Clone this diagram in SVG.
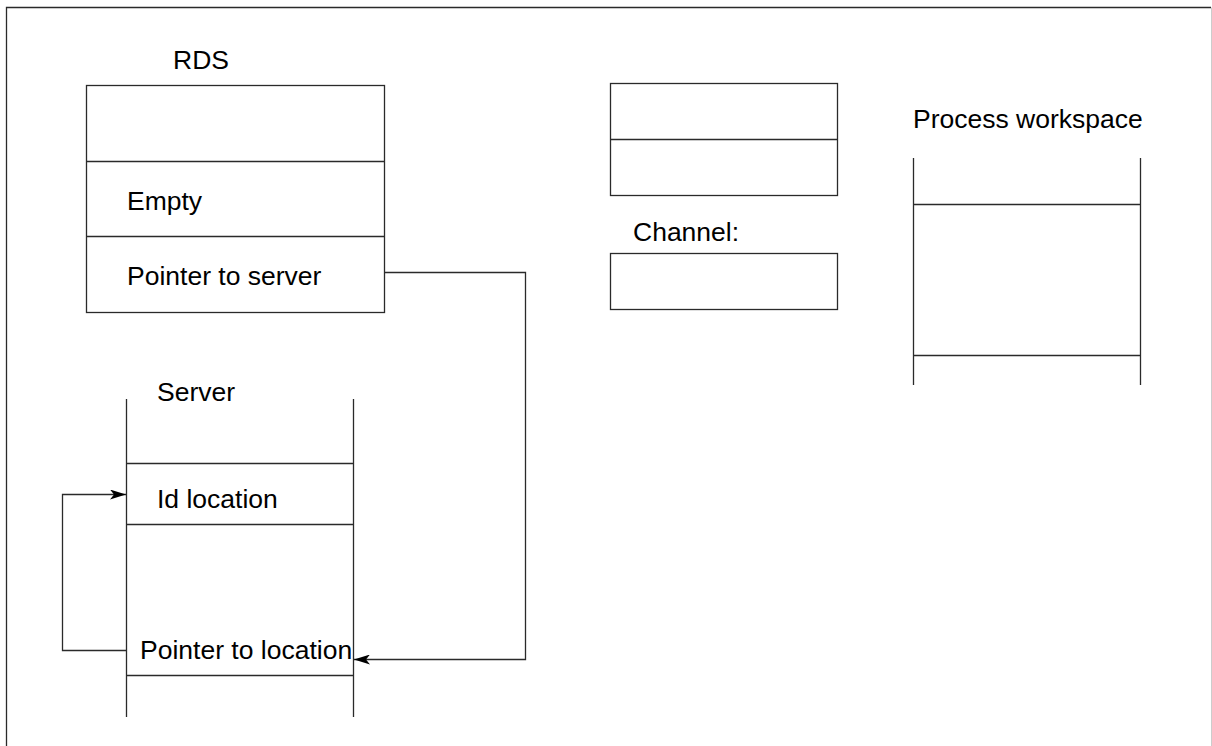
<svg xmlns="http://www.w3.org/2000/svg" width="1212" height="746" viewBox="0 0 1212 746">
<defs>
<style>
.ln{stroke:#2a2a2a;stroke-width:1.3;fill:none}
.bx{stroke:#2a2a2a;stroke-width:1.3;fill:#fff}
.t{font-family:"Liberation Sans",Arial,sans-serif;font-size:26.5px;fill:#000}
</style>
<marker id="ah" viewBox="0 0 16 10" refX="16" refY="5" markerWidth="16" markerHeight="10" markerUnits="userSpaceOnUse" orient="auto">
<path d="M0,0 L16,5 L0,10 L4,5 Z" fill="#000"/>
</marker>
</defs>
<rect width="1212" height="746" fill="#fff"/>
<g id="frame">
<path class="ln" d="M6.5,746 V7.5 H1211"/>
<path d="M1211.5,7.5 V746" stroke="#cccccc" stroke-width="1" fill="none"/>
</g>
<g id="rds">
<text class="t" x="173" y="69">RDS</text>
<rect class="bx" x="86.5" y="85.5" width="298" height="227"/>
<path class="ln" d="M86.5,161.5 H384.5 M86.5,236.5 H384.5"/>
<text class="t" x="127" y="210">Empty</text>
<text class="t" x="127" y="285">Pointer to server</text>
</g>
<g id="top-box">
<rect class="bx" x="610.5" y="83.5" width="227" height="112"/>
<path class="ln" d="M610.5,139.5 H837.5"/>
</g>
<g id="channel">
<text class="t" x="633" y="241">Channel:</text>
<rect class="bx" x="610.5" y="253.5" width="227" height="56"/>
</g>
<g id="process-workspace">
<text class="t" x="913" y="128">Process workspace</text>
<path class="ln" d="M913.5,158 V385 M1140.5,158 V385 M913.5,204.5 H1140.5 M913.5,355.5 H1140.5"/>
</g>
<g id="server">
<text class="t" x="157" y="401">Server</text>
<path class="ln" d="M126.5,399 V717 M353.5,399 V717 M126.5,463.5 H353.5 M126.5,524.5 H353.5 M126.5,675.5 H353.5"/>
<text class="t" x="157" y="508">Id location</text>
<text class="t" x="140" y="659">Pointer to location</text>
</g>
<g id="connectors">
<path class="ln" d="M384.5,272.5 H525.5 V659.5 H354" marker-end="url(#ah)"/>
<path class="ln" d="M126.5,650.5 H62.5 V494.5 H126" marker-end="url(#ah)"/>
</g>
</svg>
